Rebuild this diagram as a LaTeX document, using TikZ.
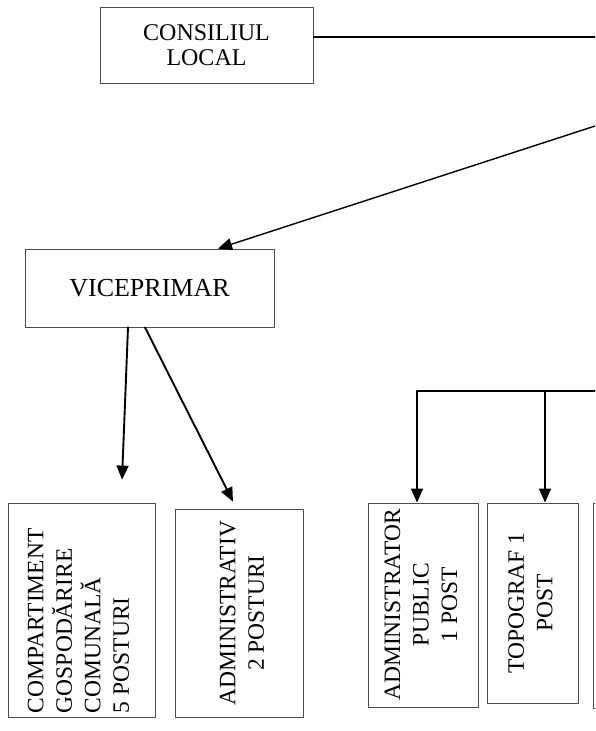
\documentclass[tikz,border=0pt]{standalone}
\usepackage{graphicx}
\usepackage{fontspec}
\setmainfont{Liberation Serif}
\usetikzlibrary{arrows.meta}

\tikzset{
	box/.style={draw=black!70,line width=0.8pt,rectangle,inner sep=1pt,font=\fontsize{23.5}{28.5}\selectfont},
	link/.style={line width=1.1pt},
	arr/.style={->,line width=1.9pt}
}
\newcommand{\vtext}[2]{\rotatebox{90}{\begin{tabular}{@{}#1@{}}#2\end{tabular}}}

\begin{document}
\begin{tikzpicture}[line cap=round,line join=round,>={Triangle[length=14pt,width=12pt]},x=1pt,y=-1pt]
		\useasboundingbox (0,0) rectangle (595,731);
		\clip (0,0) rectangle (595,731);
		% boxes
		\node[box,minimum width=213pt,minimum height=76pt,align=center,font=\fontsize{24}{25}\selectfont] (consiliu) at (206.5,45) {CONSILIUL\\LOCAL};
		\node[box,minimum width=249pt,minimum height=78pt,font=\fontsize{26}{28}\selectfont] (viceprimar) at (149.5,288) {VICEPRIMAR};
		\node[box,minimum width=147pt,minimum height=214pt] (compartiment) at (81.5,610) {\hspace{-6pt}\rotatebox{90}{\parbox{206pt}{\raggedright COMPARTIMENT\\GOSPODĂRIRE\\COMUNALĂ\\5 POSTURI}}};
		\node[box,minimum width=128pt,minimum height=208pt] (administrativ) at (239,613) {\hspace{10pt}\vtext{c}{ADMINISTRATIV\\2 POSTURI}};
		\node[box,minimum width=110pt,minimum height=204pt] (admpublic) at (423,605) {\vtext{c}{ADMINISTRATOR\\PUBLIC\\1 POST}};
		\node[box,minimum width=91pt,minimum height=200pt] (topograf) at (532.5,603) {\vtext{c}{TOPOGRAF 1\\POST}};
		\node[box,minimum width=94pt,minimum height=205pt] (urmator) at (640,605.5) {};
		% connectors
		\coordinate (c1) at (600,37);
		\draw[link] (consiliu.east |- c1) -- (c1);
		\coordinate (p1) at (600,124.4);
		\draw[arr,line width=1.4pt] (p1) -- ([xshift=68.5pt]viceprimar.north);
		\draw[arr] ([xshift=-21.5pt]viceprimar.south) -- ([xshift=40.5pt,yshift=23pt]compartiment.north);
		\draw[arr] ([xshift=-4.5pt]viceprimar.south) -- ([xshift=-6pt,yshift=7pt]administrativ.north);
		\coordinate (bus) at (417,391);
		\coordinate (busend) at (600,391);
		\coordinate (drop2) at (545,391);
		\draw[link] (bus) -- (busend);
		\draw[arr] (bus) -- (bus |- admpublic.north);
		\draw[arr] (drop2) -- (drop2 |- topograf.north);
	\end{tikzpicture}
\end{document}
